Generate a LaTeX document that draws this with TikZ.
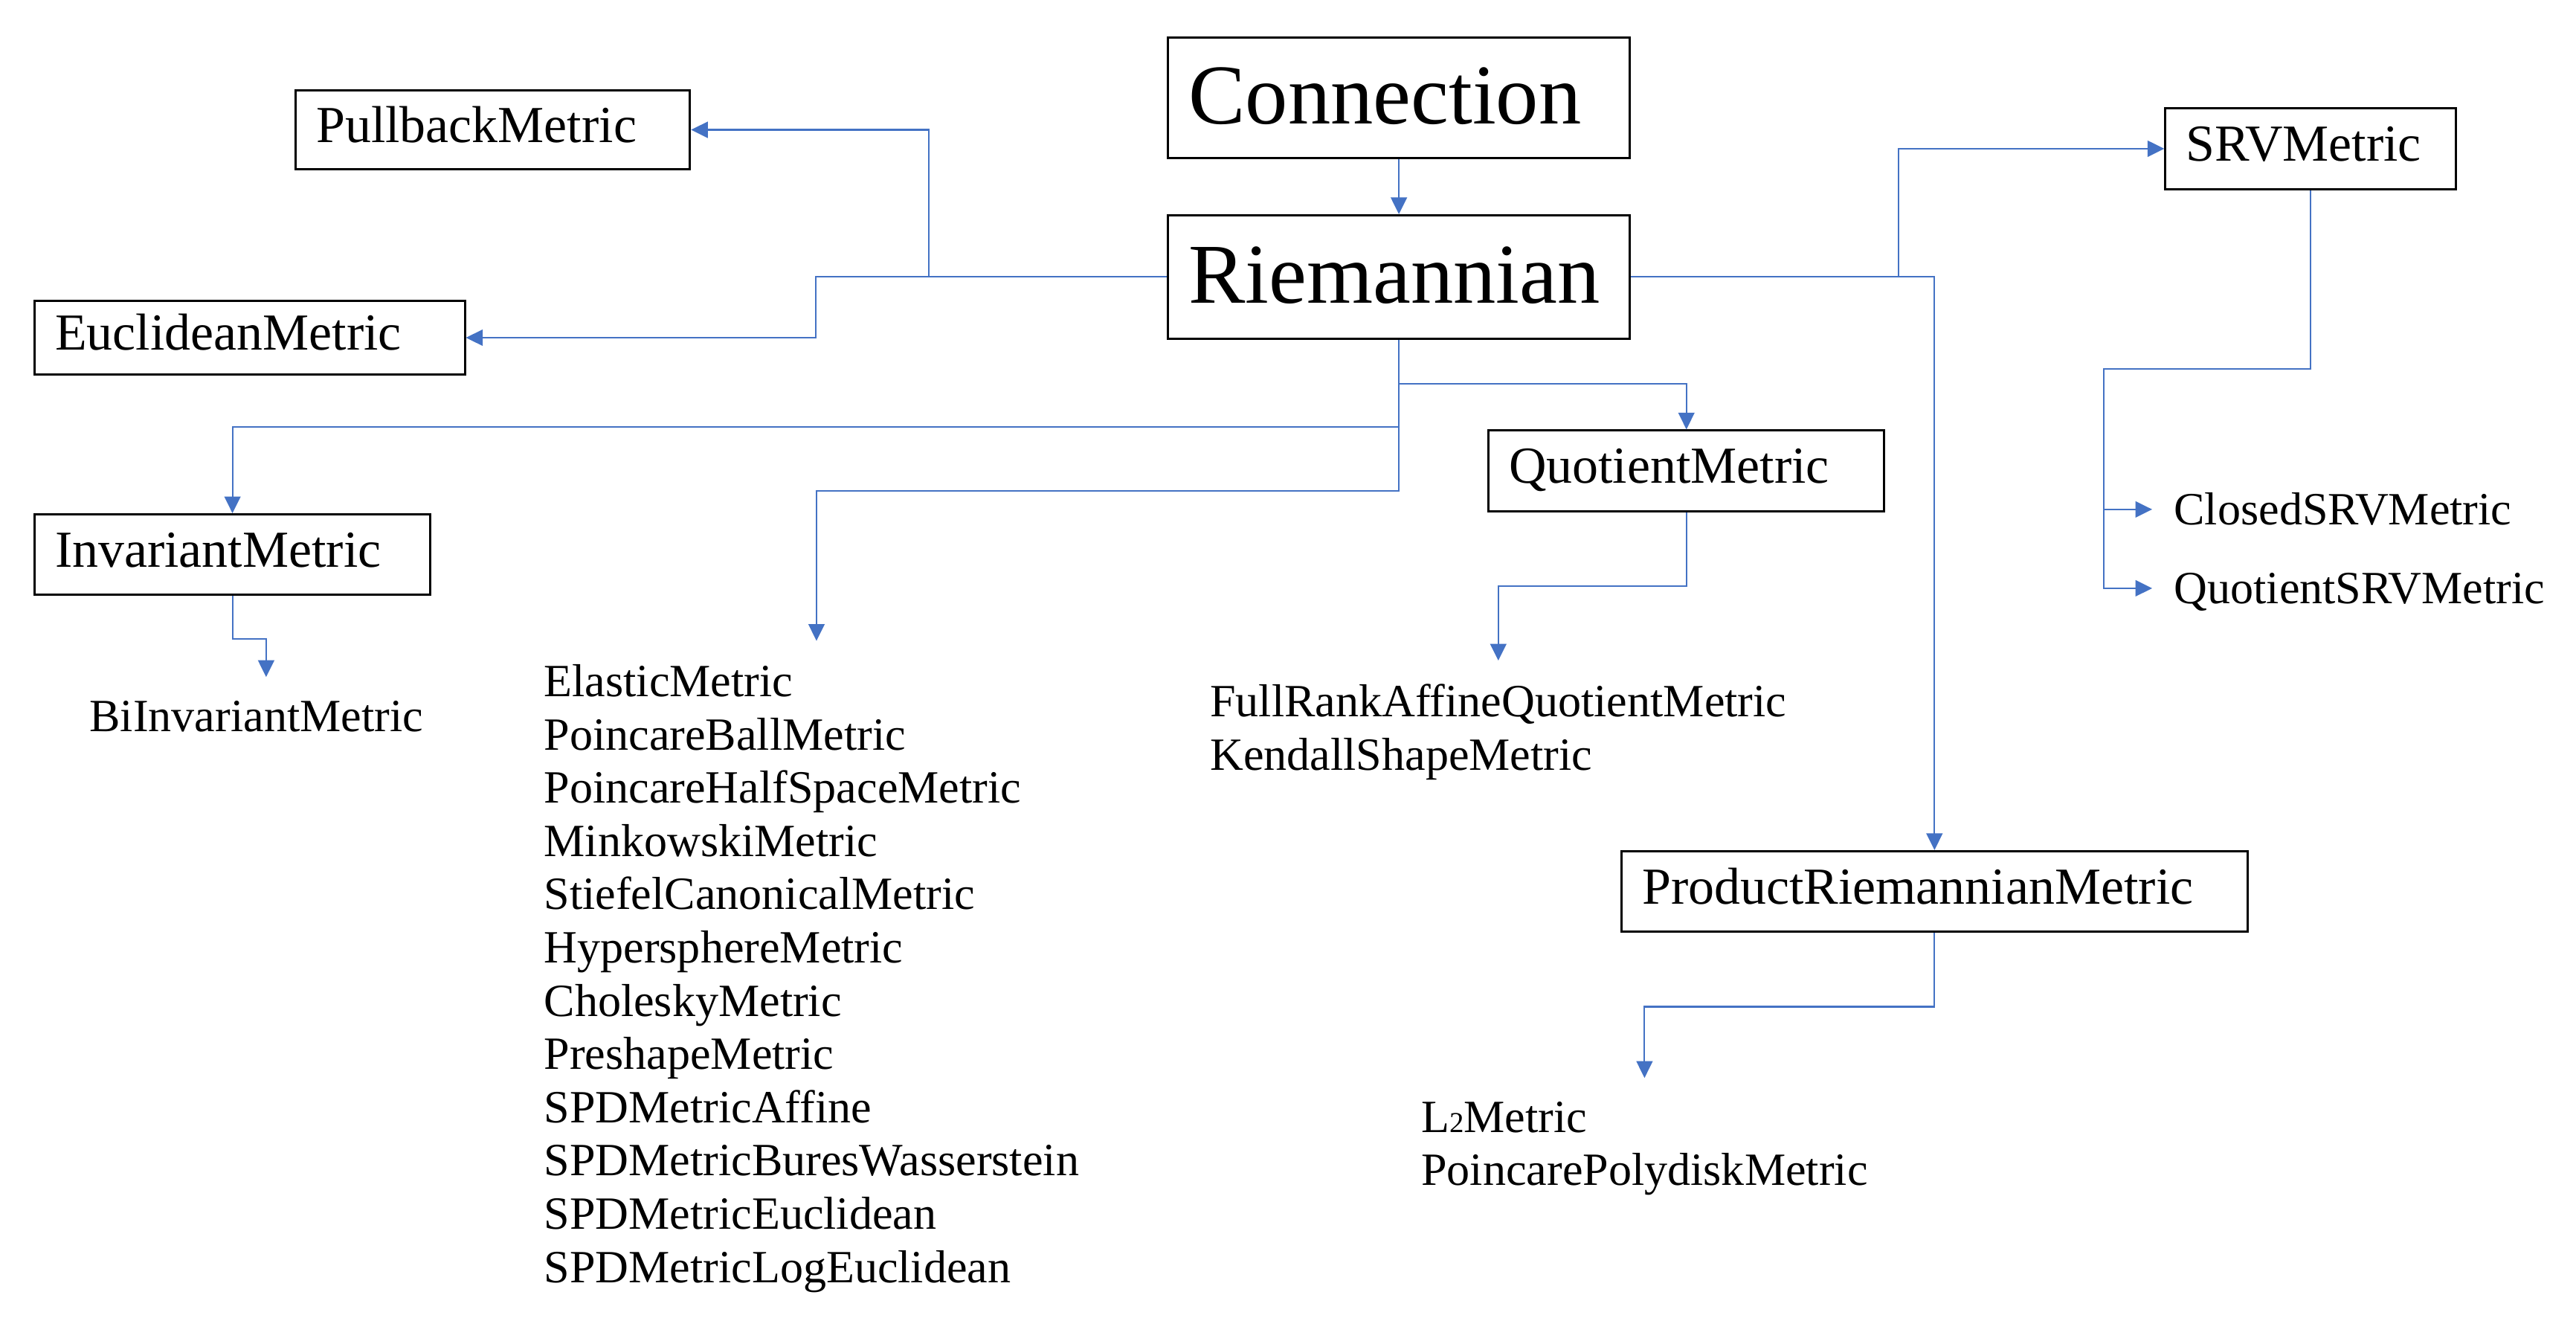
\documentclass[tikz,border=0pt]{standalone}
\usepackage{fontspec}
\setmainfont{Liberation Serif}
\usetikzlibrary{arrows.meta}
\definecolor{linkblue}{HTML}{4472C4}
\tikzset{
  cls/.style={draw, line width=0.75pt, align=left, inner xsep=0.25cm, inner ysep=0pt,
    text height=12.6pt, text depth=3.96pt, font=\fontsize{18}{21}\selectfont},
  bigcls/.style={cls, text height=20.65pt, text depth=2.5pt, font=\fontsize{29.5}{34}\selectfont},
  leaf/.style={align=left, inner xsep=0.26cm, inner ysep=0.28cm, font=\fontsize{16}{18.45}\selectfont},
  link/.style={draw=linkblue, line width=0.55pt, -{Triangle[length=5.8pt,width=5.6pt]}},
}

\begin{document}
\begin{tikzpicture}[x=0.02cm,y=-0.02cm]
  \useasboundingbox (0,0) rectangle (1568,802);

  % class boxes
  \node[bigcls, text width=5.12cm, minimum height=1.46cm] (conn) at (851.5,59.5) {Connection};
  \node[bigcls, text width=5.12cm, minimum height=1.5cm] (riem) at (851.5,168.5) {Riemannian};
  \node[cls, text width=4.3cm, minimum height=0.96cm] (pullback) at (300,79) {PullbackMetric};
  \node[cls, text width=4.74cm, minimum height=0.9cm] (euclid) at (152,205.5) {EuclideanMetric};
  \node[cls, text width=3.04cm, minimum height=0.98cm] (srv) at (1406.5,90.5) {SRVMetric};
  \node[cls, text width=4.32cm, minimum height=0.98cm] (invariant) at (141.5,337.5) {InvariantMetric};
  \node[cls, text width=4.32cm, minimum height=0.98cm] (quotient) at (1026.5,286.5) {QuotientMetric};
  \node[cls, text width=7.12cm, minimum height=0.98cm] (product) at (1177.5,542.5) {ProductRiemannianMetric};

  % subclasses
  \node[leaf, anchor=north] (biinv) at (156,412) {BiInvariantMetric};
  \node[leaf, anchor=north] (geom) at (494,390) {ElasticMetric\\PoincareBallMetric\\PoincareHalfSpaceMetric\\MinkowskiMetric\\StiefelCanonicalMetric\\HypersphereMetric\\CholeskyMetric\\PreshapeMetric\\SPDMetricAffine\\SPDMetricBuresWasserstein\\SPDMetricEuclidean\\SPDMetricLogEuclidean};
  \node[leaf, anchor=north] (quotlist) at (912,402) {FullRankAffineQuotientMetric\\KendallShapeMetric};
  \node[leaf, anchor=north] (prodlist) at (1001,656) {L{\fontsize{10}{10}\selectfont 2}Metric\\PoincarePolydiskMetric};
  \node[leaf, anchor=west, text height=10.56pt, text depth=0pt] (closed) at (1310,310) {ClosedSRVMetric};
  \node[leaf, anchor=west, text height=10.56pt, text depth=0pt] (quotsrv) at (1310,358) {QuotientSRVMetric};

  % inheritance links
  \draw[link] (conn) -- (riem);
  \draw[link] (riem.west) -- ++(-214,0) |- (euclid.east);
  \draw[link] (riem.west) ++(-145,0) |- (pullback.east);
  \draw[link] (riem.east) ++(163,0) |- (srv.west);
  \draw[link] (riem.east) -| (product.north);
  \draw[link] (riem.south) -- ++(0,27) -| (quotient.north);
  \draw[link] (riem.south) -- ++(0,53) -| (invariant.north);
  \draw[link] (riem.south) -- ++(0,92) -| ([xshift=0.06cm]geom.north);
  \draw[link] (invariant.south) -- ++(0,26) -| ([xshift=0.12cm]biinv.north);
  \draw[link] (quotient.south) -- ++(0,45) -| (quotlist.north);
  \draw[link] (product.south) -- ++(0,45) -| (prodlist.north);
  \draw[link] (srv.south) |- ++(-126,109) coordinate (srvbus) |- (quotsrv.west);
  \draw[link] (srvbus |- closed.west) -- (closed.west);
\end{tikzpicture}
\end{document}
